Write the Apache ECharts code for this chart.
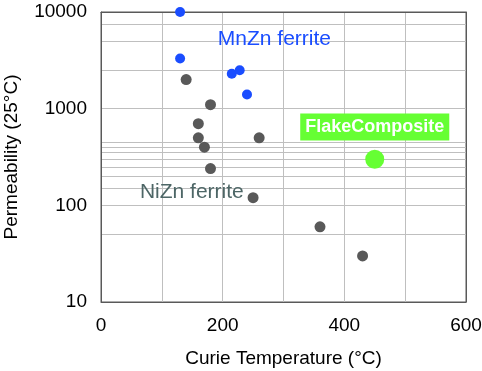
<!DOCTYPE html>
<html>
<head>
<meta charset="utf-8">
<script src="https://cdn.jsdelivr.net/npm/echarts@6/dist/echarts.min.js"></script>
<style>html,body{margin:0;padding:0;background:#fff}#c{width:482px;height:371px}</style>
</head>
<body>
<div id="c"></div>
<script>
// ---- data ----
var mnznX = [130, 130, 215, 228, 240];
var mnznY = [10000, 3300, 2300, 2500, 1400];
var niznX = [140, 180, 160, 160, 170, 180, 260, 250, 360, 430];
var niznY = [2000, 1100, 700, 500, 400, 240, 500, 120, 60, 30];
var flakeX = [450];
var flakeY = [300];
var xTicks = [0, 200, 400, 600];
var yTicks = [10, 100, 1000, 10000];
var yGridExtra = [50, 150, 200, 250, 300, 350, 400, 450, 2500, 5000, 7500];
var labelMnZn = {text: 'MnZn ferrite', x: 192, y: 5250};
var labelNiZn = {text: 'NiZn ferrite', x: 64, y: 136};
var labelFlake = {text: 'FlakeComposite', x: 450, y: 645};

function zip(xs, ys) { return xs.map(function (v, i) { return [v, ys[i]]; }); }

var FONT = 'Liberation Sans, Arial, sans-serif';
var BORDER = '#595959';
var chart = echarts.init(document.getElementById('c'), null, {renderer: 'canvas'});
chart.setOption({
  animation: false,
  textStyle: {fontFamily: FONT},
  grid: {left: 101, right: 16, top: 12, bottom: 69, show: true, borderColor: BORDER, borderWidth: 1,
    containLabel: false, outerBoundsMode: 'none'},
  xAxis: [{
    type: 'value', min: 0, max: 600, interval: 100,
    name: 'Curie Temperature (°C)', nameLocation: 'middle', nameGap: 47,
    nameTextStyle: {fontSize: 19, color: '#000', fontFamily: FONT},
    axisLine: {show: true, lineStyle: {color: BORDER, width: 1}},
    axisTick: {show: false},
    axisLabel: {fontSize: 19, color: '#000', margin: 14, fontFamily: FONT,
      formatter: function (v) { return xTicks.indexOf(v) >= 0 ? String(v) : ''; }},
    splitLine: {show: true, lineStyle: {color: '#bfbfbf', width: 1}}
  }, {
    type: 'value', position: 'top', min: 0, max: 600, interval: 100,
    axisLine: {show: true, onZero: false, lineStyle: {color: BORDER, width: 1}},
    axisTick: {show: false}, axisLabel: {show: false}, splitLine: {show: false}
  }],
  yAxis: [{
    type: 'log', logBase: 10, min: 10, max: 10000,
    name: 'Permeability (25°C)', nameLocation: 'middle', nameGap: 80,
    nameTextStyle: {fontSize: 19, color: '#000', fontFamily: FONT},
    axisLine: {show: true, lineStyle: {color: BORDER, width: 1}},
    axisTick: {show: false},
    axisLabel: {fontSize: 19, color: '#000', margin: 14, fontFamily: FONT,
      formatter: function (v) { return yTicks.indexOf(Math.round(v)) >= 0 ? String(Math.round(v)) : ''; }},
    splitLine: {show: true, lineStyle: {color: '#bfbfbf', width: 1}},
    minorSplitLine: {show: false}
  }, {
    type: 'log', logBase: 10, min: 10, max: 10000, position: 'right',
    axisLine: {show: true, onZero: false, lineStyle: {color: BORDER, width: 1}},
    axisTick: {show: false}, axisLabel: {show: false}, splitLine: {show: false}
  }],
  series: [
    {
      type: 'scatter', name: 'grid', data: [], silent: true, z: 0, zlevel: 0,
      markLine: {
        silent: true, symbol: 'none', animation: false, z: 0,
        label: {show: false},
        lineStyle: {color: '#bfbfbf', width: 1, type: 'solid'},
        emphasis: {disabled: true},
        data: yGridExtra.map(function (v) { return {yAxis: v}; })
      }
    },
    {
      type: 'scatter', name: 'NiZn', data: zip(niznX, niznY), symbolSize: 11, z: 5,
      itemStyle: {color: '#595959', opacity: 1},
      markPoint: {
        symbol: 'circle', symbolSize: 0, silent: true,
        data: [{coord: [labelNiZn.x, labelNiZn.y], value: labelNiZn.text}],
        label: {show: true, position: 'right', distance: 0, formatter: labelNiZn.text,
          color: '#4d6666', fontSize: 21, fontFamily: FONT}
      }
    },
    {
      type: 'scatter', name: 'MnZn', data: zip(mnznX, mnznY), symbolSize: 10, z: 5,
      itemStyle: {color: '#1a4dff', opacity: 1},
      markPoint: {
        symbol: 'circle', symbolSize: 0, silent: true,
        data: [{coord: [labelMnZn.x, labelMnZn.y], value: labelMnZn.text}],
        label: {show: true, position: 'right', distance: 0, formatter: labelMnZn.text,
          color: '#1a4dff', fontSize: 21, fontFamily: FONT}
      }
    },
    {
      type: 'scatter', name: 'Flake', data: zip(flakeX, flakeY), symbolSize: 19, z: 5,
      itemStyle: {color: '#66ff33', opacity: 1},
      markPoint: {
        symbol: 'circle', symbolSize: 0, silent: true,
        data: [{coord: [labelFlake.x, labelFlake.y], value: labelFlake.text}],
        label: {show: true, position: 'inside', formatter: labelFlake.text,
          color: '#fff', fontSize: 18, fontWeight: 'bold', fontFamily: FONT,
          backgroundColor: '#66ff33', padding: [5, 5, 4, 5]}
      }
    }
  ]
});
</script>
</body>
</html>
